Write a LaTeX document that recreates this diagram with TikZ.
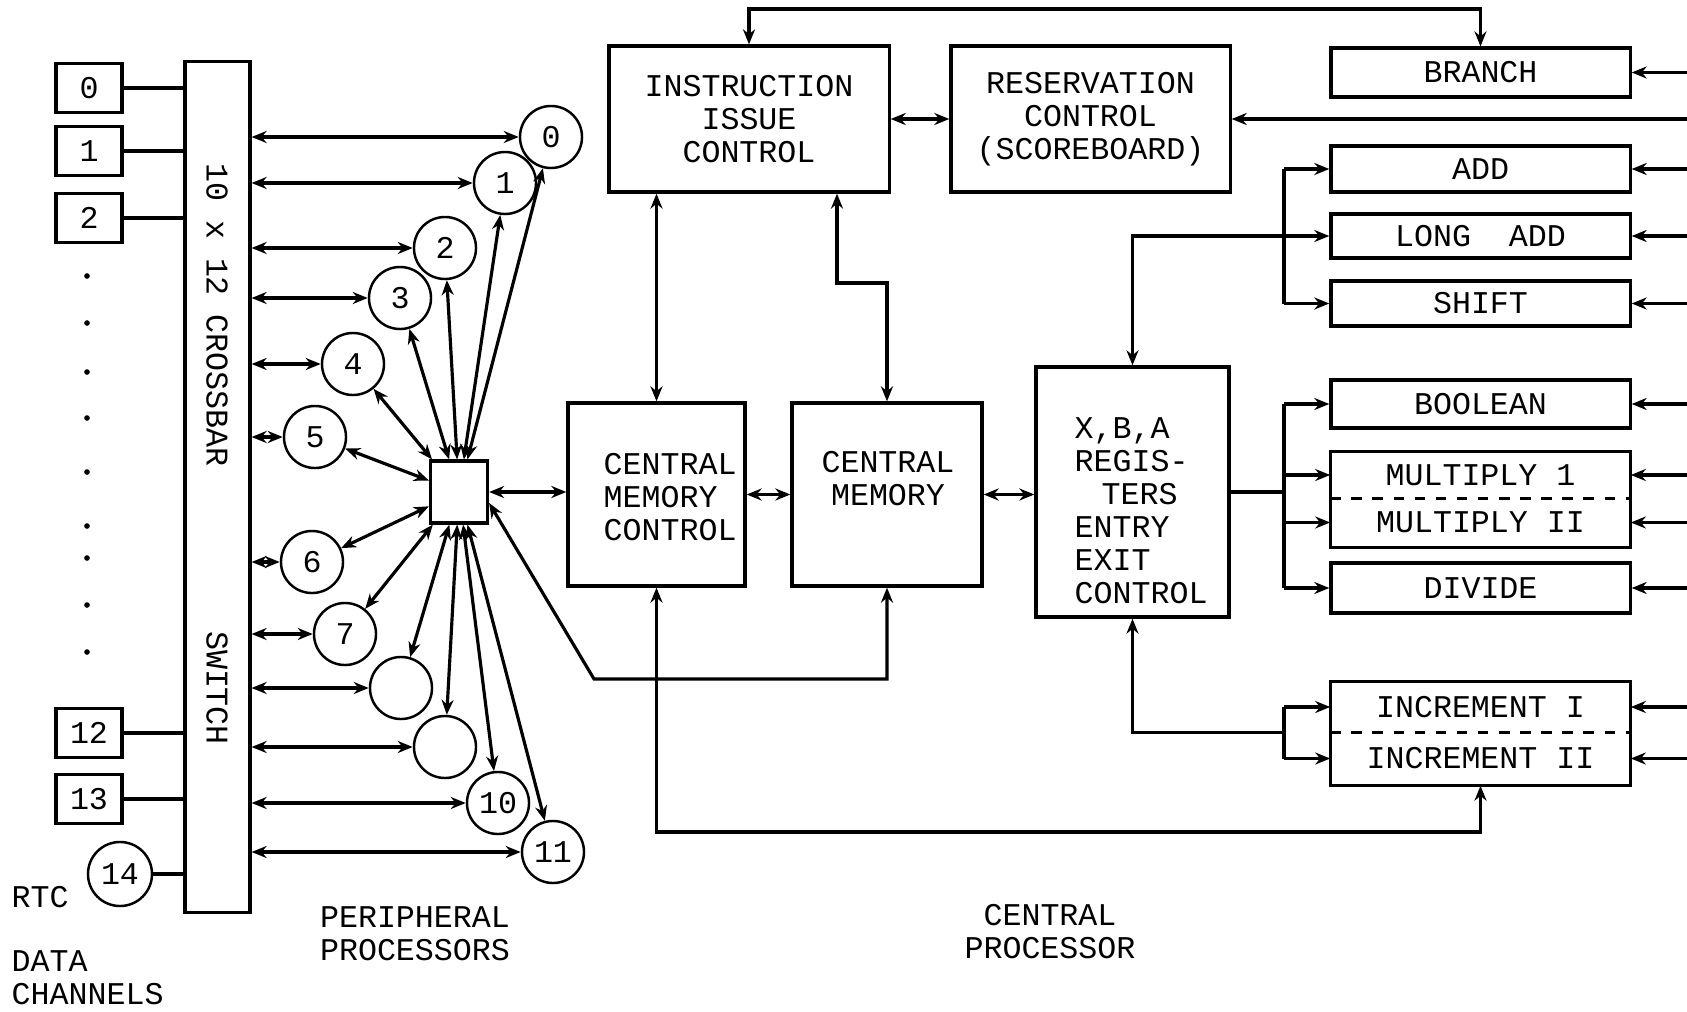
\documentclass[tikz,border=0pt]{standalone}
\usepackage{fontspec}
\setmonofont{Liberation Mono}
\usetikzlibrary{arrows.meta}

\begin{document}
\begin{tikzpicture}[x=0.01cm, y=-0.01cm, >={Stealth[length=1.5mm,width=1.2mm]},
        txt/.style={font=\ttfamily\fontsize{9}{9.4}\selectfont},
        unit/.style={draw, line width=0.9pt, txt, inner sep=0pt},
        pp/.style={draw, circle, line width=0.7pt, txt, minimum size=0.62cm, inner sep=0pt},
        link/.style={<->, line width=0.9pt},
        feed/.style={->, line width=0.9pt},
        wire/.style={line width=0.9pt}]

        \useasboundingbox (0,0) rectangle (1687,1012);

        \coordinate (edge) at (1687,0);
        \coordinate (bus) at (1284,0);
        \coordinate (high) at (0,9);
        \coordinate (low) at (0,832);
        \coordinate (jog) at (837,283);
        \coordinate (kink) at (594,679);

        \node[unit, minimum width=0.65cm, minimum height=8.50cm] (cb) at (217.5,487) {};
        \node[txt, rotate=-90] (cbt) at (217,315) {10 x 12 CROSSBAR};
        \node[txt, rotate=-90] (cbs) at (217,688) {SWITCH};

        \foreach \n/\y in {0/88,1/151,2/218,12/733,13/799}
            \node[unit, minimum width=0.66cm, minimum height=0.49cm] (d\n) at (89,\y) {\n};
        \node[pp, minimum size=0.64cm] (d14) at (120,874) {14};
        \foreach \n in {0,1,2,12,13,14}
            \draw[wire] (d\n) -- (d\n -| cb.west);
        \foreach \y in {276,323,372,418,472,526,558,605,652}
            \fill (87,\y) circle (0.8pt);

        \node[txt, anchor=west, inner sep=0pt] (rtc) at (11,897) {RTC};
        \node[txt, anchor=west, align=left, inner sep=0pt] (dch) at (11,978) {DATA\\CHANNELS};

        \node[unit, minimum width=0.57cm, minimum height=0.62cm] (sw) at (459,492) {};
        \foreach \i/\x/\y/\t in {0/551/137/0, 1/505/183/1, 2/445/248/2, 3/400/298/3,
                4/353/364/4, 5/315/437/5, 6/312/562/6, 7/345/634/7, 8/401/688/{},
                9/445/747/{}, 10/498/803/10, 11/553/852/11}
            \node[pp] (p\i) at (\x,\y) {\t};
        \foreach \i in {0,...,11} {
            \draw[link] (p\i -| cb.east) -- (p\i);
            \draw[link] (sw) -- (p\i);
        }
        \node[txt, align=center] (ppl) at (415,934) {PERIPHERAL\\PROCESSORS};

        \node[unit, minimum width=2.80cm, minimum height=1.46cm, align=center] (iic) at (749,119)
            {INSTRUCTION\\ISSUE\\CONTROL};
        \node[unit, minimum width=2.79cm, minimum height=1.46cm, align=center] (rc) at (1090.5,119)
            {RESERVATION\\CONTROL\\(SCOREBOARD)};
        \node[unit, minimum width=1.77cm, minimum height=1.83cm] (cmc) at (656.5,494.5) {};
        \node[txt, anchor=west, align=left, inner sep=0pt] (cmct) at (603,497) {CENTRAL\\MEMORY\\CONTROL};
        \node[unit, minimum width=1.90cm, minimum height=1.83cm] (cm) at (887,494.5) {};
        \node[txt, align=center] (cmt) at (888,479) {CENTRAL\\MEMORY};
        \node[unit, minimum width=1.93cm, minimum height=2.50cm] (xba) at (1132.5,492) {};
        \node[txt, anchor=west, align=left, inner sep=0pt] (xbat) at (1074,511)
            {X,B,A\\REGIS-\\\hspace*{0.27cm}TERS\\ENTRY\\EXIT\\CONTROL};

        \foreach \n/\y/\h/\t in {br/72.5/0.49/BRANCH, add/169/0.46/ADD, ladd/236/0.44/LONG~~ADD,
                shift/303.5/0.45/SHIFT, bool/404/0.48/BOOLEAN, div/588/0.50/DIVIDE}
            \node[unit, minimum width=2.99cm, minimum height=\h cm] (\n) at (1480.5,\y) {\t};
        \node[txt, minimum width=2.99cm, minimum height=0.46cm, inner sep=0pt] (mul1) at (1480.5,475) {MULTIPLY 1};
        \node[txt, minimum width=2.99cm, minimum height=0.49cm, inner sep=0pt] (mul2) at (1480.5,522.5) {MULTIPLY II};
        \draw[wire] (mul1.north west) rectangle (mul2.south east);
        \draw[wire, dashed] (mul1.south west) -- (mul1.south east);
        \node[txt, minimum width=2.99cm, minimum height=0.50cm, inner sep=0pt] (inc1) at (1480.5,707) {INCREMENT I};
        \node[txt, minimum width=2.99cm, minimum height=0.53cm, inner sep=0pt] (inc2) at (1480.5,758.5) {INCREMENT II};
        \draw[wire] (inc1.north west) rectangle (inc2.south east);
        \draw[wire, dashed] (inc1.south west) -- (inc1.south east);
        \node[txt, align=center] (cpl) at (1050,932) {CENTRAL\\PROCESSOR};

        \foreach \n in {rc,br,add,ladd,shift,bool,mul1,mul2,div,inc1,inc2}
            \draw[feed] (\n.east -| edge) -- (\n.east);

        \draw[link] (iic.north) -- (iic.north |- high) -| (br.north);
        \draw[link] (iic.east) -- (rc.west);
        \draw[link] (iic.south -| cmc.north) -- (cmc.north);
        \draw[link] (iic.south -| jog) -- (jog) -| (cm.north);
        \draw[link] (cmc.east) -- (cm.west);
        \draw[link] (cm.east) -- (cm.east -| xba.west);
        \draw[link] (sw.east) -- (sw.east -| cmc.west);
        \draw[link] (sw.-20) -- (kink) -| (cm.south);
        \draw[link] (inc2.south) -- (inc2.south |- low) -| (cmc.south);

        \draw[link] (xba.north) |- (ladd.west);
        \draw[wire] (add.west -| bus) -- (shift.west -| bus);
        \foreach \n in {add,shift}
            \draw[feed] (\n.west -| bus) -- (\n.west);
        \draw[wire] (xba.east) -- (xba.east -| bus);
        \draw[wire] (bool.west -| bus) -- (div.west -| bus);
        \foreach \n in {bool,mul1,mul2,div}
            \draw[feed] (\n.west -| bus) -- (\n.west);
        \draw[feed] (inc1.south west -| bus) -| (xba.south);
        \draw[wire] (inc1.west -| bus) -- (inc2.west -| bus);
        \foreach \n in {inc1,inc2}
            \draw[feed] (\n.west -| bus) -- (\n.west);

\end{tikzpicture}
\end{document}
